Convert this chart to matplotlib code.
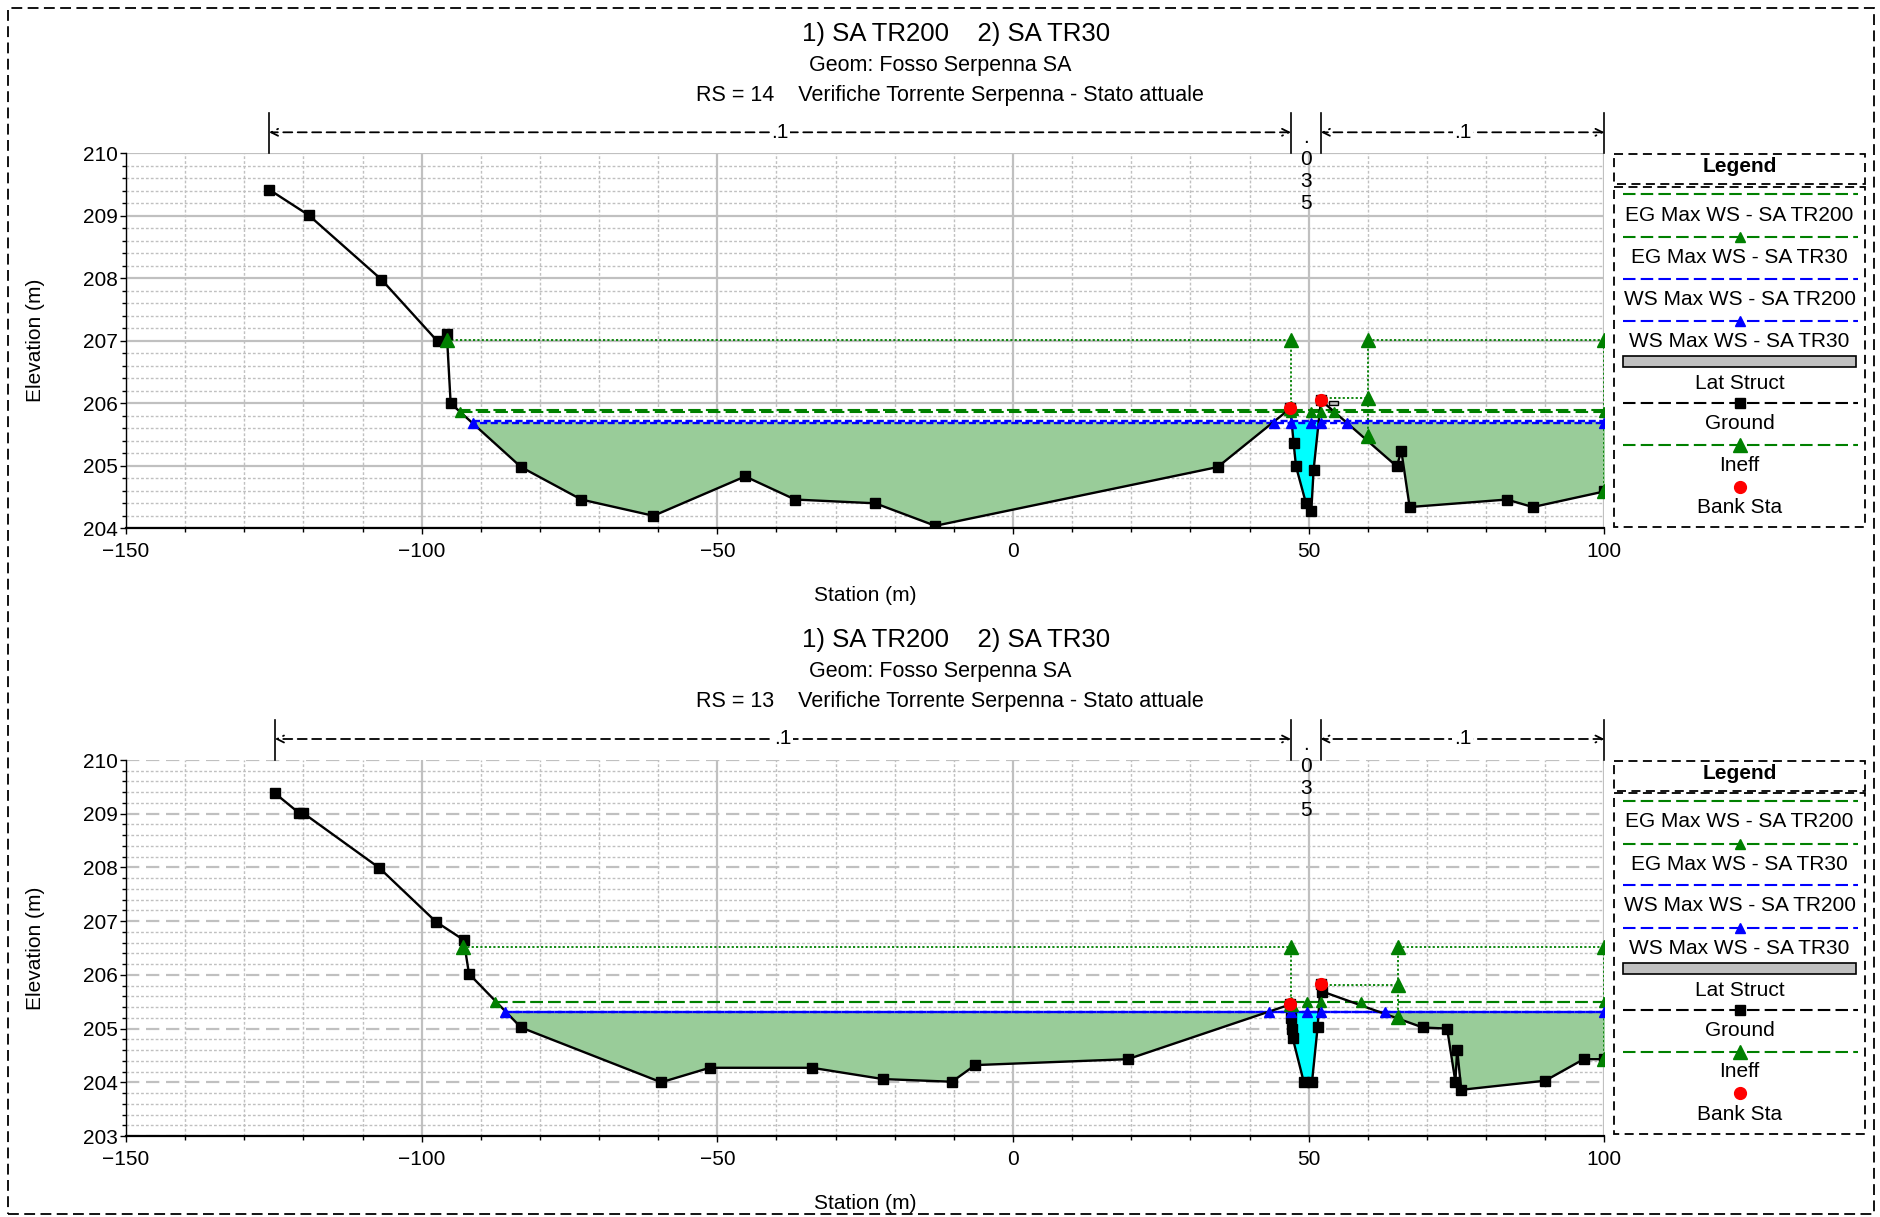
import numpy as np
import matplotlib
matplotlib.use("Agg")
import matplotlib.pyplot as plt
from matplotlib.patches import Rectangle
from matplotlib.ticker import MultipleLocator
import matplotlib.transforms as mtrans

plt.rcParams['font.family'] = ['Liberation Sans', 'DejaVu Sans']

# ---------------- data ----------------
title_runs = "1) SA TR200    2) SA TR30"
geom_title = "Geom: Fosso Serpenna SA"
rs_titles = ["RS = 14    Verifiche Torrente Serpenna - Stato attuale",
             "RS = 13    Verifiche Torrente Serpenna - Stato attuale"]
legend_labels = ["EG Max WS - SA TR200", "EG Max WS - SA TR30", "WS Max WS - SA TR200",
                 "WS Max WS - SA TR30", "Lat Struct", "Ground", "Ineff", "Bank Sta"]
x_label = "Station (m)"
y_label = "Elevation (m)"
n_values = [".1", ".035", ".1"]

# RS 14
rs14_station = [-125.8, -119.1, -106.8, -97.3, -95.75, -95.1, -83.2, -73.0, -60.8, -45.3,
                -36.85, -23.3, -13.15, 34.6, 46.9, 47.45, 47.85, 49.54, 50.44, 50.83,
                52.07, 64.9, 65.66, 67.07, 83.5, 87.9, 100.0]
rs14_elev = [209.42, 209.01, 207.98, 206.99, 207.11, 206.0, 204.98, 204.46, 204.2, 204.83,
             204.46, 204.4, 204.04, 204.98, 205.92, 205.36, 204.99, 204.4, 204.28, 204.94,
             206.05, 204.99, 205.24, 204.34, 204.46, 204.34, 204.59]
rs14_banks = [46.9, 52.07]
rs14_ws_tr200, rs14_ws_tr30 = 205.71, 205.69
rs14_eg_tr200, rs14_eg_tr30 = 205.89, 205.86
rs14_ws_marks = [-91.4, 44.07, 47.06, 50.44, 52.0, 56.5, 100.0]
rs14_eg_marks = [-93.5, 47.06, 50.44, 52.0, 54.3, 100.0]
rs14_eg200_start = -93.8
rs14_ineff_x = [[-95.75, 47.0, 47.0], [52.07, 60.0], [60.0, 60.0], [60.0, 100.0, 100.0]]
rs14_ineff_y = [[207.01, 207.01, 205.92], [206.08, 206.08], [207.01, 205.47], [207.01, 207.01, 204.59]]
rs14_ineff_mx = [-95.75, 47.0, 47.0, 60.0, 60.0, 60.0, 100.0, 100.0]
rs14_ineff_my = [207.01, 207.01, 205.92, 207.01, 206.08, 205.47, 207.01, 204.59]
rs14_lat_x = [53.4, 54.9]
rs14_lat_y = [205.97, 206.03]
rs14_n_stations = [-125.8, 47.0, 52.07, 100.0]

# RS 13
rs13_station = [-124.8, -120.7, -120.0, -107.15, -97.6, -92.9, -92.0, -83.2, -59.5, -51.3,
                -34.0, -22.0, -10.33, -6.4, 19.4, 46.9, 47.0, 47.1, 47.3, 49.15,
                50.56, 51.5, 52.0, 52.3, 69.3, 73.4, 74.8, 75.1, 75.8, 90.0,
                96.5, 100.0]
rs13_elev = [209.38, 209.01, 209.01, 207.99, 206.99, 206.65, 206.02, 205.02, 204.0, 204.27,
             204.27, 204.06, 204.01, 204.32, 204.43, 205.45, 205.2, 205.0, 204.82, 204.01,
             204.01, 205.02, 205.83, 205.69, 205.02, 205.0, 204.01, 204.61, 203.86, 204.03,
             204.43, 204.43]
rs13_banks = [46.9, 52.0]
rs13_ws_tr200, rs13_ws_tr30 = 205.31, 205.31
rs13_eg_tr200, rs13_eg_tr30 = 205.50, 205.50
rs13_ws_marks = [-85.9, 43.2, 47.06, 49.7, 52.0, 62.97, 100.0]
rs13_eg_marks = [-87.6, 47.06, 49.7, 52.0, 58.85, 100.0]
rs13_eg200_start = -87.6
rs13_ineff_x = [[-93.05, 47.06, 47.06], [52.0, 65.05], [65.05, 65.05], [65.05, 100.0, 100.0]]
rs13_ineff_y = [[206.51, 206.51, 205.45], [205.81, 205.81], [206.51, 205.22], [206.51, 206.51, 204.43]]
rs13_ineff_mx = [-93.05, 47.06, 47.06, 65.05, 65.05, 65.05, 100.0, 100.0]
rs13_ineff_my = [206.51, 206.51, 205.45, 206.51, 205.81, 205.22, 206.51, 204.43]
rs13_n_stations = [-124.8, 47.0, 52.0, 100.0]

# ---------------- style ----------------
W, H = 1881, 1217
GREEN = '#008000'
BLUE = '#0000ff'
FILL_GREEN = '#99cc99'
CYAN = '#00ffff'
GRID = '#c0c0c0'

fig = plt.figure(figsize=(W / 100, H / 100), dpi=100)


def px_axes(x0, y0, x1, y1):
    return fig.add_axes([x0 / W, 1 - y1 / H, (x1 - x0) / W, (y1 - y0) / H])


def draw_xs(ax, sta, elev, banks, ws200, ws30, eg200, eg30, ws_marks, eg_marks, eg200_start,
            ineff_x, ineff_y, ineff_mx, ineff_my, ylim, major_h_ls, lat=None):
    sta = np.asarray(sta, float)
    elev = np.asarray(elev, float)
    lb, rb = banks
    for mask, col in ((sta <= lb, FILL_GREEN), ((sta >= lb) & (sta <= rb), CYAN), (sta >= rb, FILL_GREEN)):
        x = sta[mask]
        y = elev[mask]
        ax.fill_between(x, y, ws200, where=y < ws200, interpolate=True, color=col, lw=0, zorder=2)

    # ineffective areas
    for xs, ys in zip(ineff_x, ineff_y):
        ax.plot(xs, ys, color=GREEN, lw=1.3, ls=(0, (1.2, 1.2)), zorder=4)
    # EG lines
    ax.plot([eg200_start, max(eg_marks)], [eg200, eg200], color=GREEN, lw=1.5, dashes=(6, 2.5), zorder=4)
    ax.plot([min(eg_marks), max(eg_marks)], [eg30, eg30], color=GREEN, lw=1.5, dashes=(6, 2.5),
            dash_capstyle='butt', zorder=4)
    ax.plot(eg_marks, [eg30] * len(eg_marks), ls='none', marker='^', ms=6.5, color=GREEN, zorder=6)
    # WS lines
    ax.plot([min(ws_marks), max(ws_marks)], [ws200, ws200], color=BLUE, lw=1.7, dashes=(3, 1.5), zorder=4)
    l = ax.plot([min(ws_marks), max(ws_marks)], [ws30, ws30], color=BLUE, lw=1.7, zorder=4)[0]
    l.set_linestyle((1.5, (3, 1.5)))
    ax.plot(ws_marks, [ws30] * len(ws_marks), ls='none', marker='^', ms=6.5, color=BLUE, zorder=6)
    # ground
    ax.plot(sta, elev, color='black', lw=1.7, marker='s', ms=7, zorder=5)
    # ineff markers
    ax.plot(ineff_mx, ineff_my, ls='none', marker='^', ms=10.5, color=GREEN, zorder=6)
    # lateral structure
    if lat is not None:
        (lx0, lx1), (ly0, ly1) = lat
        ax.add_patch(Rectangle((lx0, ly0), lx1 - lx0, ly1 - ly0, fc='#c0c0c0', ec='black', lw=1, zorder=6))
    # bank stations
    bank_elev = np.interp(banks, sta, elev)
    ax.plot(banks, bank_elev, ls='none', marker='o', ms=8.5, color='red', zorder=7)

    ax.set_xlim(-150, 100)
    ax.set_ylim(*ylim)
    ax.xaxis.set_major_locator(MultipleLocator(50))
    ax.xaxis.set_minor_locator(MultipleLocator(10))
    ax.yaxis.set_major_locator(MultipleLocator(1))
    ax.yaxis.set_minor_locator(MultipleLocator(0.2))
    ax.set_axisbelow(True)
    ax.grid(which='minor', color=GRID, lw=1.0, ls=(0, (2, 1.5)))
    ax.xaxis.grid(which='major', color=GRID, lw=1.6, ls='-')
    ax.yaxis.grid(which='major', color=GRID, lw=1.6, ls=major_h_ls)
    for s in ('top', 'right'):
        ax.spines[s].set_visible(False)
    ax.spines['bottom'].set_linestyle((0, (1.5, 1)))
    ax.spines['bottom'].set_linewidth(1.6)
    ax.spines['left'].set_linewidth(1.0)
    ax.tick_params(axis='both', which='major', direction='out', length=4, width=1, labelsize=15)
    ax.tick_params(axis='both', which='minor', direction='out', length=3, width=1)
    ax.tick_params(axis='x', which='major', pad=6)
    ax.tick_params(axis='y', which='major', pad=2)
    ax.set_xlabel(x_label, fontsize=15)
    ax.set_ylabel(y_label, fontsize=15)
    ax.xaxis.set_label_coords(0.5, -0.155)
    ax.yaxis.set_label_coords(-0.055, 0.5)


def draw_n(ax, stations, values, ax_h_px):
    trans = mtrans.blended_transform_factory(ax.transData, ax.transAxes)
    f = lambda px: 1 + px / ax_h_px
    for s in stations:
        ax.plot([s, s], [f(0), f(40)], transform=trans, color='black', lw=1.2, clip_on=False)
    for a, b, v in zip(stations[:-1], stations[1:], values):
        if b - a > 10:
            ax.annotate('', xy=(a, f(21)), xytext=(b, f(21)), xycoords=trans, textcoords=trans,
                        arrowprops=dict(arrowstyle='<->,head_length=0.5,head_width=0.25', ls=(0, (5, 3)),
                                        lw=1.3, shrinkA=0, shrinkB=0, color='black'),
                        annotation_clip=False)
            ax.text((a + b) / 2, f(21), v, transform=trans, ha='center', va='center', fontsize=15,
                    bbox=dict(fc='white', ec='none', pad=1), zorder=10)
        else:
            for i, ch in enumerate(v):
                ax.text((a + b) / 2, f(10 - 22 * i), ch, transform=trans, ha='center', va='baseline',
                        fontsize=15, zorder=10)


def draw_legend(top_px):
    x0, x1 = 1613.3, 1866.0
    y0, y1 = top_px, top_px + 375
    lax = px_axes(x0, y0, x1, y1)
    lax.set_xlim(x0, x1)
    lax.set_ylim(y1, y0)
    lax.axis('off')
    lax.add_patch(Rectangle((x0 + 1, y0 + 1), x1 - x0 - 2, 30, fill=False, ec='black', lw=1.3,
                            ls=(0, (5, 3)), clip_on=False))
    lax.add_patch(Rectangle((x0 + 1, y0 + 33.4), x1 - x0 - 2, y1 - y0 - 34.4, fill=False, ec='black',
                            lw=1.3, ls=(0, (5, 3)), clip_on=False))
    cx = (x0 + x1) / 2
    lax.text(cx, y0 + 13.4, "Legend", ha='center', va='center', fontsize=15, fontweight='bold')
    lxa, lxb = 1622.7, 1858.3
    line_off = [41, 83.7, 125.4, 168, 208.3, 250, 291.7, 333.4]
    text_off = [61.7, 104, 145.7, 188, 230, 270, 311.7, 354]
    styles = [
        dict(color=GREEN, marker=None, ms=0),
        dict(color=GREEN, marker='^', ms=7),
        dict(color=BLUE, marker=None, ms=0),
        dict(color=BLUE, marker='^', ms=7),
        None,
        dict(color='black', marker='s', ms=6.5),
        dict(color=GREEN, marker='^', ms=10.5),
        'bank',
    ]
    for lab, lo, to, st in zip(legend_labels, line_off, text_off, styles):
        y = y0 + lo
        if st is None:
            lax.add_patch(Rectangle((1622.7, y - 5.6), 1856 - 1622.7, 11.3, fc='#c0c0c0', ec='black', lw=1.2))
        elif st == 'bank':
            lax.plot([cx], [y], ls='none', marker='o', ms=8.5, color='red')
        else:
            lax.plot([lxa, lxb], [y, y], color=st['color'], lw=1.5, dashes=(6, 2.5))
            if st['marker']:
                lax.plot([cx], [y], ls='none', marker=st['marker'], ms=st['ms'], color=st['color'])
        lax.text(cx, y0 + to, lab, ha='center', va='center', fontsize=15)


# ---------------- panels ----------------
panels = [
    dict(top=153.3, bot=528.3, sta=rs14_station, elev=rs14_elev, banks=rs14_banks,
         ws200=rs14_ws_tr200, ws30=rs14_ws_tr30, eg200=rs14_eg_tr200, eg30=rs14_eg_tr30,
         ws_marks=rs14_ws_marks, eg_marks=rs14_eg_marks, eg200_start=rs14_eg200_start,
         ix=rs14_ineff_x, iy=rs14_ineff_y, imx=rs14_ineff_mx, imy=rs14_ineff_my,
         ylim=(204, 210), hls='-', lat=(rs14_lat_x, rs14_lat_y), n=rs14_n_stations,
         title_y=[33.5, 66, 96], rs=rs_titles[0]),
    dict(top=760.0, bot=1136.0, sta=rs13_station, elev=rs13_elev, banks=rs13_banks,
         ws200=rs13_ws_tr200, ws30=rs13_ws_tr30, eg200=rs13_eg_tr200, eg30=rs13_eg_tr30,
         ws_marks=rs13_ws_marks, eg_marks=rs13_eg_marks, eg200_start=rs13_eg200_start,
         ix=rs13_ineff_x, iy=rs13_ineff_y, imx=rs13_ineff_mx, imy=rs13_ineff_my,
         ylim=(203, 210), hls=(0, (6, 3)), lat=None, n=rs13_n_stations,
         title_y=[640, 672, 702], rs=rs_titles[1]),
]

for p in panels:
    ax = px_axes(126, p['top'], 1604.4, p['bot'])
    draw_xs(ax, p['sta'], p['elev'], p['banks'], p['ws200'], p['ws30'], p['eg200'], p['eg30'],
            p['ws_marks'], p['eg_marks'], p['eg200_start'], p['ix'], p['iy'], p['imx'], p['imy'],
            p['ylim'], p['hls'], p['lat'])
    draw_n(ax, p['n'], n_values, p['bot'] - p['top'])
    draw_legend(p['top'])
    ty = p['title_y']
    fig.text(0.5085, 1 - ty[0] / H, title_runs, ha='center', va='center', fontsize=18.5)
    fig.text(0.5, 1 - ty[1] / H, geom_title, ha='center', va='center', fontsize=15.5)
    fig.text(0.505, 1 - ty[2] / H, p['rs'], ha='center', va='center', fontsize=15.5)

fig.add_artist(Rectangle((8 / W, 3 / H), (1874 - 8) / W, (1214 - 8) / H, transform=fig.transFigure,
                         fill=False, ec='black', lw=1.3, ls=(0, (6, 3))))

fig.savefig("out.png", dpi=100)
